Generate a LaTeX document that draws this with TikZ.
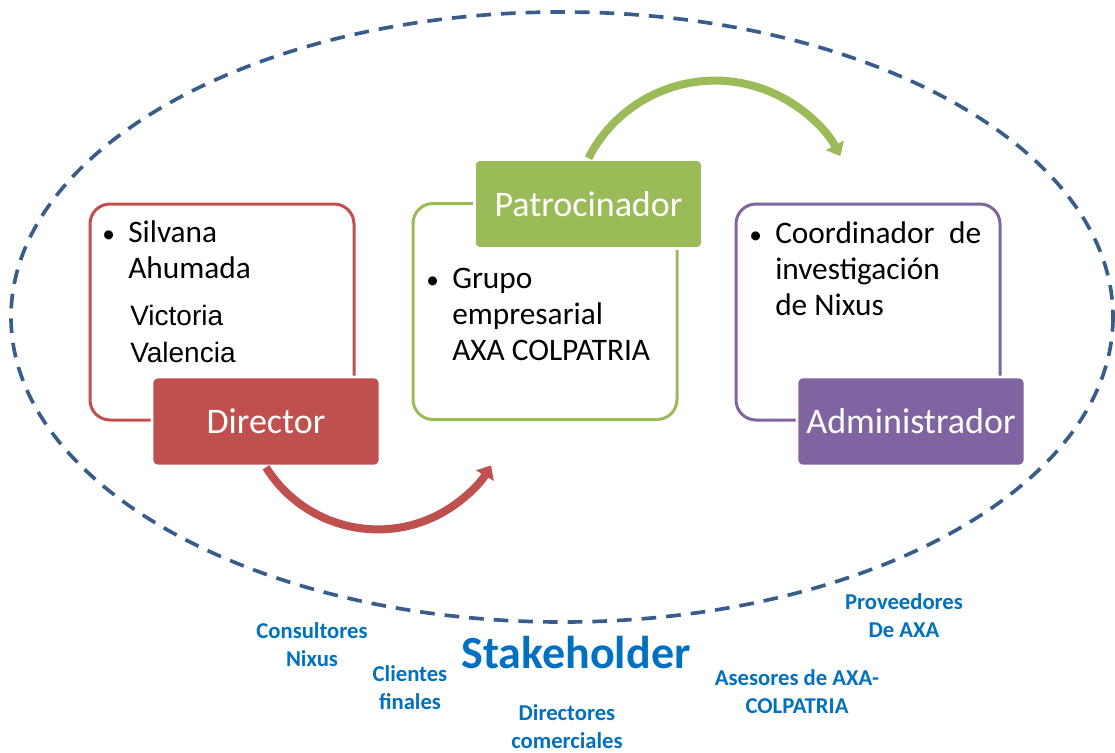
\documentclass[tikz,border=0pt]{standalone}
\usepackage{fontspec}
\setmainfont{Carlito}
\newfontfamily\arialfont{Liberation Sans}
\usetikzlibrary{arrows.meta}
\definecolor{dirred}{HTML}{C0504D}
\definecolor{patgreen}{HTML}{9BBB59}
\definecolor{admpurple}{HTML}{8064A2}
\definecolor{stakeblue}{HTML}{0070C0}
\definecolor{ringblue}{HTML}{385D8A}
\newcommand{\itembullet}{\leavevmode\llap{{\fontsize{19}{19}\selectfont\textbullet}\hspace{10pt}}}

\begin{document}
\begin{tikzpicture}[x=0.75pt,y=-0.75pt,
  outerbox/.style={draw=#1, line width=2.25pt, fill=white, rounded corners=15pt,
    minimum width=198pt, minimum height=162pt, inner sep=0pt},
  labelbox/.style={fill=#1, draw=white, line width=2pt, rounded corners=4pt, text=white,
    minimum width=171pt, minimum height=66.75pt, font=\fontsize{27}{32}\selectfont},
  bodytext/.style={anchor=base west, inner sep=0pt, font=\fontsize{23.5}{27}\selectfont},
  stakelabel/.style={text=stakeblue, align=center, font=\bfseries\fontsize{17}{21}\selectfont},
  stagearrow/.style={draw=#1, line width=6pt, -{Triangle[length=9pt,width=15pt]}}]
  \useasboundingbox (0,0) rectangle (1115,753);

  \draw[ringblue, line width=2.75pt, dash pattern=on 11pt off 7.5pt]
    (562,317) ellipse [x radius=551, y radius=305];

  % director
  \node[outerbox=dirred] (dirbox) at (222,312) {};
  \node[bodytext] (dirtext) at (128,242)
    {\parbox[t]{180pt}{\itembullet Silvana\\Ahumada}};
  \node[bodytext, font=\arialfont\fontsize{21}{27.75}\selectfont] (dirnames) at (130,325)
    {\parbox[t]{150pt}{Victoria\\Valencia}};
  \node[labelbox=dirred] (dirlabel) at (266,421.5) {Director};

  % patrocinador
  \node[outerbox=patgreen] (patbox) at (545,311.5) {};
  \node[bodytext] (pattext) at (452,288)
    {\parbox[t]{190pt}{\itembullet Grupo\\empresarial\\AXA COLPATRIA}};
  \node[labelbox=patgreen] (patlabel) at (588.5,204) {Patrocinador};

  % administrador
  \node[outerbox=admpurple] (admbox) at (868,312) {};
  \node[bodytext] (admtext) at (775,243)
    {\parbox[t]{190pt}{\itembullet Coordinador\hspace{11pt}de\\investigación\\de Nixus}};
  \node[labelbox=admpurple] (admlabel) at (911,421.5) {Administrador};

  % flechas entre etapas
  \draw[stagearrow=dirred] (dirlabel.south) arc[start angle=148, end angle=31, radius=132];
  \draw[stagearrow=patgreen] (patlabel.north) arc[start angle=207, end angle=332, radius=142];

  % stakeholders
  \node[stakelabel] (consultores) at (312,645) {Consultores\\Nixus};
  \node[stakelabel] (clientes) at (410,688) {Clientes\\finales};
  \node[stakelabel, font=\bfseries\fontsize{34.5}{40}\selectfont] (stake) at (576,653) {Stakeholder};
  \node[stakelabel] (directores) at (567,727) {Directores\\comerciales};
  \node[stakelabel] (asesores) at (797,692) {Asesores de AXA-\\COLPATRIA};
  \node[stakelabel] (proveedores) at (904,616) {Proveedores\\De AXA};
\end{tikzpicture}
\end{document}
